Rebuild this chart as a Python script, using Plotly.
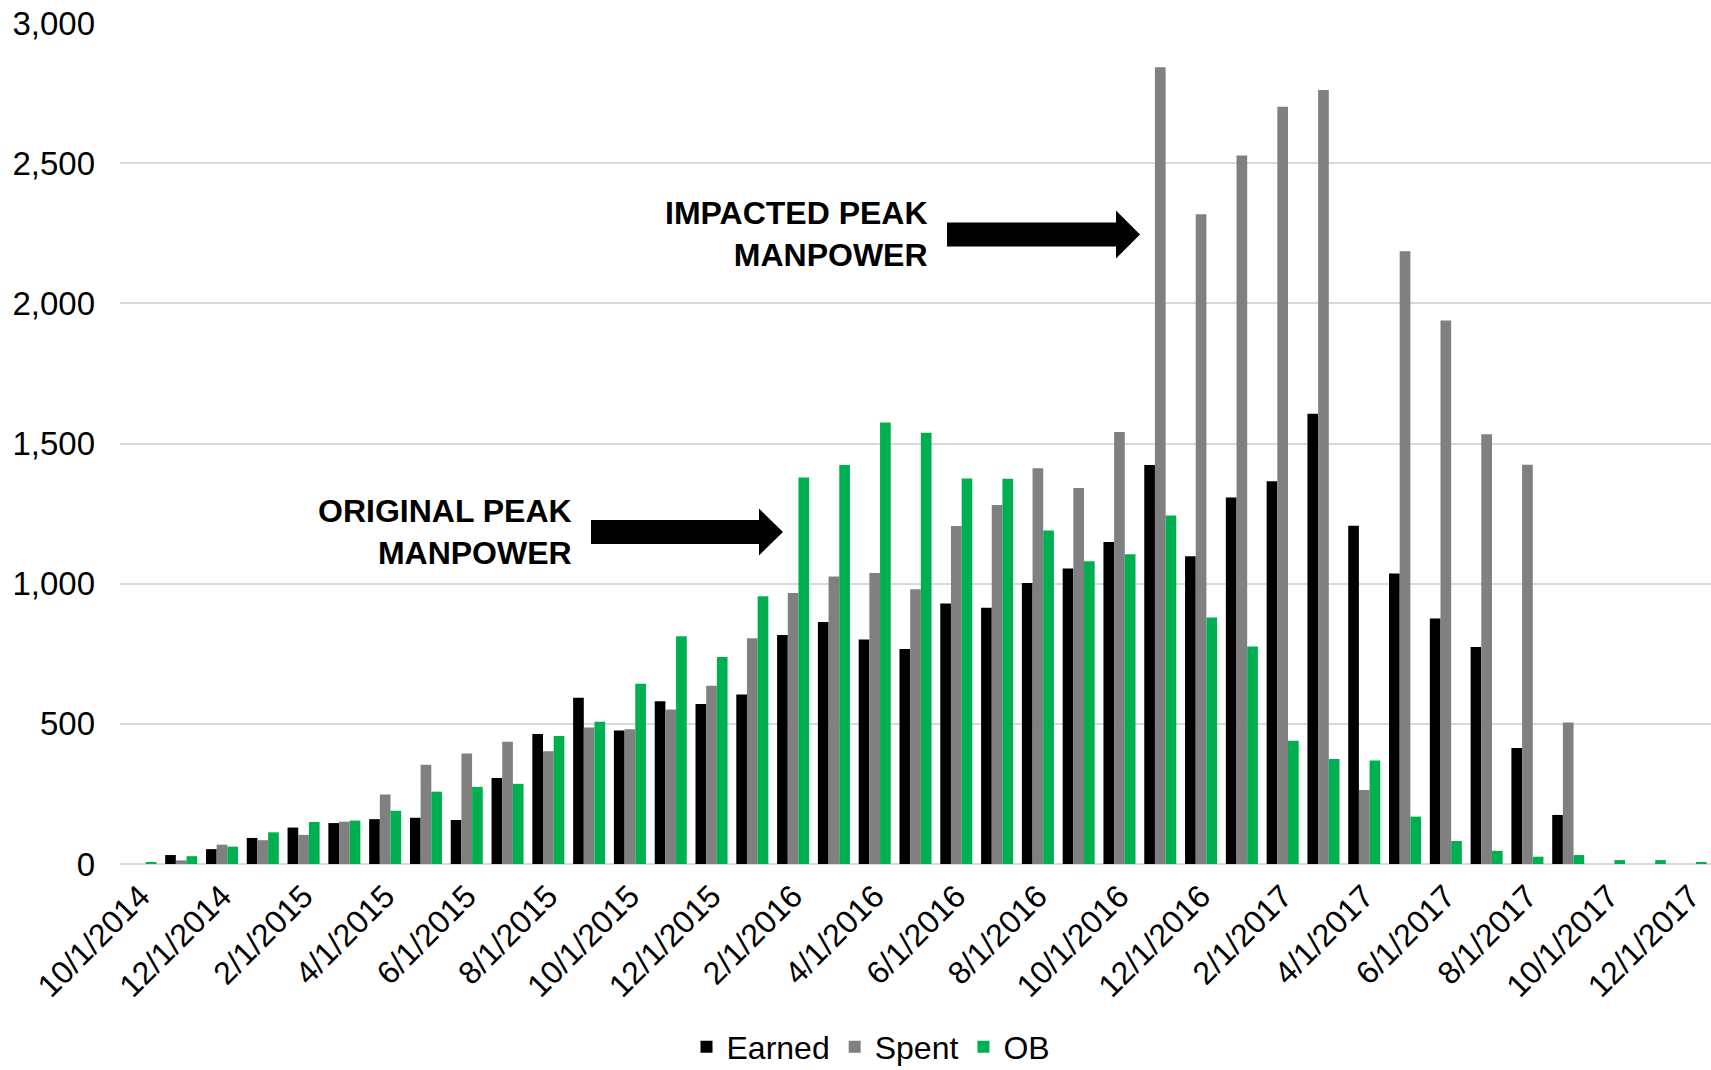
import plotly.graph_objects as go

months = ["10/1/2014", "11/1/2014", "12/1/2014", "1/1/2015", "2/1/2015", "3/1/2015",
          "4/1/2015", "5/1/2015", "6/1/2015", "7/1/2015", "8/1/2015", "9/1/2015",
          "10/1/2015", "11/1/2015", "12/1/2015", "1/1/2016", "2/1/2016", "3/1/2016",
          "4/1/2016", "5/1/2016", "6/1/2016", "7/1/2016", "8/1/2016", "9/1/2016",
          "10/1/2016", "11/1/2016", "12/1/2016", "1/1/2017", "2/1/2017", "3/1/2017",
          "4/1/2017", "5/1/2017", "6/1/2017", "7/1/2017", "8/1/2017", "9/1/2017",
          "10/1/2017", "11/1/2017", "12/1/2017"]

earned = [0, 32, 53, 93, 130, 146, 160, 165, 157, 307, 464, 593, 476, 581, 571, 605,
          817, 863, 801, 767, 929, 914, 1002, 1054, 1149, 1423, 1098, 1307, 1365, 1606,
          1207, 1036, 876, 774, 414, 175, 0, 0, 0]

spent = [0, 13, 69, 85, 104, 151, 248, 354, 394, 436, 402, 487, 481, 551, 636, 805,
         967, 1026, 1038, 980, 1206, 1281, 1412, 1341, 1541, 2842, 2318, 2527, 2701, 2761,
         264, 2186, 1939, 1533, 1424, 505, 0, 0, 0]

ob = [5, 28, 62, 113, 150, 155, 190, 258, 275, 286, 457, 507, 643, 812, 738, 955,
      1379, 1423, 1575, 1538, 1375, 1374, 1190, 1080, 1105, 1243, 879, 776, 440, 375,
      369, 169, 82, 47, 26, 32, 14, 14, 5]

tick_labels = months[::2]
y_ticks = [0, 500, 1000, 1500, 2000, 2500, 3000]

series = [("Earned", earned, "#000000"), ("Spent", spent, "#808080"), ("OB", ob, "#00b050")]

fig = go.Figure()
for name, vals, col in series:
    fig.add_trace(go.Bar(x=months, y=vals, name=name, marker=dict(color=col, line=dict(width=0))))

FONT = "Liberation Sans, Arial, sans-serif"
W, H = 1711, 1070
L, R, T, B = 120, 0, 23, 206
pw = W - L - R
ph = H - T - B

def px(x):
    return (x - L) / pw

def py(y):
    return (H - B - y) / ph

def arrow_path(x0, x1, xh, yc, bh, hh):
    pts = [(x0, yc - bh / 2), (xh, yc - bh / 2), (xh, yc - hh / 2), (x1, yc),
           (xh, yc + hh / 2), (xh, yc + bh / 2), (x0, yc + bh / 2)]
    return "M " + " L ".join(f"{px(a):.5f},{py(b):.5f}" for a, b in pts) + " Z"

shapes = [
    dict(type="path", xref="paper", yref="paper", path=arrow_path(947, 1140, 1116, 234.5, 24, 48),
         fillcolor="black", line=dict(width=0)),
    dict(type="path", xref="paper", yref="paper", path=arrow_path(591, 783, 759, 532, 24, 47),
         fillcolor="black", line=dict(width=0)),
]

annotations = [
    dict(text="<b>IMPACTED PEAK<br>MANPOWER</b>", xref="paper", yref="paper",
         x=px(930), y=py(234), xanchor="right", yanchor="middle", align="right",
         showarrow=False, font=dict(family=FONT, size=32, color="black")),
    dict(text="<b>ORIGINAL PEAK<br>MANPOWER</b>", xref="paper", yref="paper",
         x=px(574), y=py(532), xanchor="right", yanchor="middle", align="right",
         showarrow=False, font=dict(family=FONT, size=32, color="black")),
]

fig.update_layout(
    width=W, height=H,
    margin=dict(l=L, r=R, t=T, b=B, pad=0),
    paper_bgcolor="white", plot_bgcolor="white",
    barmode="group", bargap=0.215, bargroupgap=0,
    font=dict(family=FONT, size=32, color="black"),
    shapes=shapes, annotations=annotations,
    legend=dict(orientation="h", x=px(871), xanchor="center", y=(H - 1047) / H, yanchor="middle",
                yref="container", font=dict(family=FONT, size=32, color="black"),
                traceorder="normal", itemwidth=30, tracegroupgap=0),
    xaxis=dict(type="category", tickmode="array", tickvals=tick_labels, ticktext=tick_labels,
               tickangle=-45, showgrid=False, showline=False, ticks="", ticklabelstandoff=6,
               tickfont=dict(family=FONT, size=32, color="black")),
    yaxis=dict(range=[0, 3000], tickmode="array", tickvals=y_ticks, tickformat=",",
               showgrid=True, gridcolor="#d9d9d9", gridwidth=2,
               zeroline=True, zerolinecolor="#d9d9d9", zerolinewidth=2,
               showline=False, ticks="", ticklabelstandoff=24,
               tickfont=dict(family=FONT, size=33, color="black")),
)

fig.write_html("out.html", config={"displayModeBar": False},
               post_script="document.body.style.margin='0';document.body.style.overflow='hidden';")
